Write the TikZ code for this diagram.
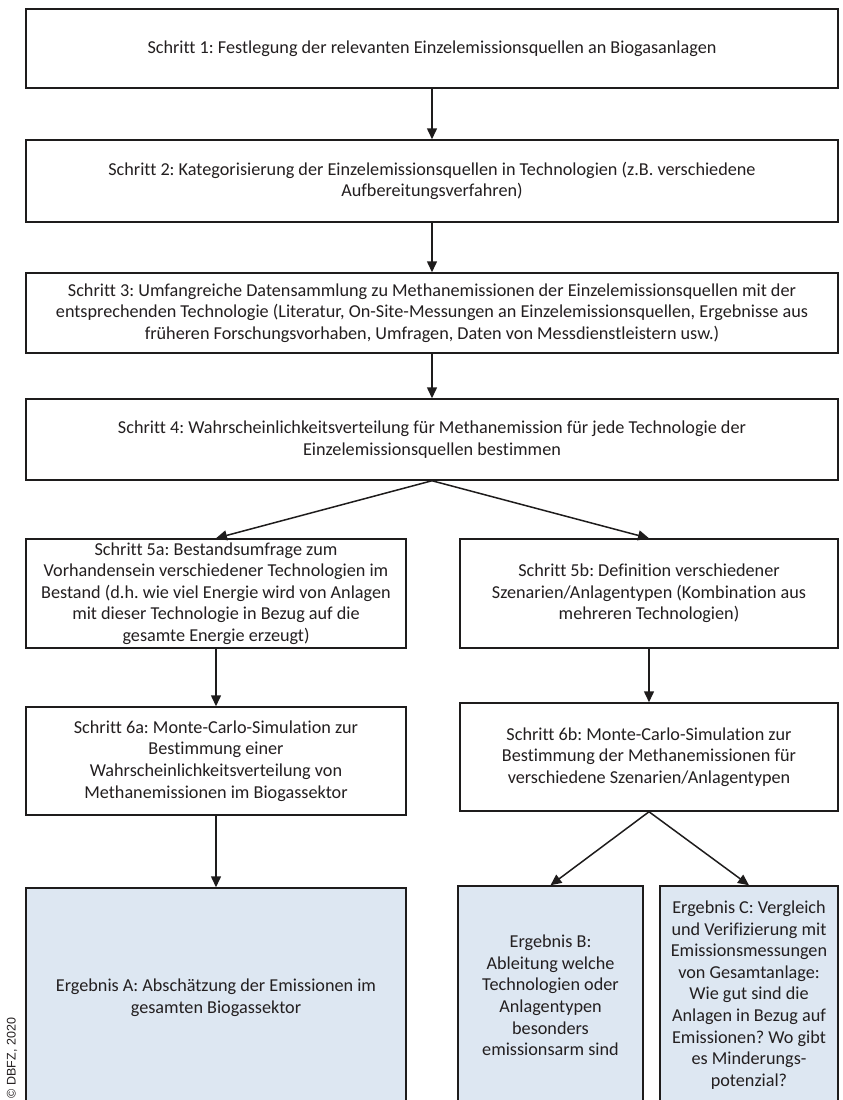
\documentclass[tikz,border=0pt]{standalone}
\usepackage{fontspec}
\setmainfont{Carlito}[Ligatures=NoCommon]
\newfontfamily\creditfont{Liberation Sans}
\usetikzlibrary{arrows.meta}
\frenchspacing
\definecolor{linec}{RGB}{30,28,28}
\definecolor{textc}{RGB}{35,31,32}
\definecolor{resultfill}{RGB}{221,231,242}
\tikzset{
  stepbox/.style={draw=linec, line width=1.5pt, fill=white, align=center, inner sep=0pt,
    text=textc, font=\fontsize{18.2}{21.6}\selectfont},
  resultbox/.style={stepbox, fill=resultfill},
  flow/.style={draw=linec, line width=1.5pt, -{Triangle[length=11pt,width=10pt]}},
}
\begin{document}
\begin{tikzpicture}[x=1pt,y=-1pt]
  \useasboundingbox (0,0) rectangle (843,1100);
  \clip (0,0) rectangle (843,1100);

  % main chain of steps
  \node[stepbox, minimum width=812pt, minimum height=79pt] (s1) at (432,48.5)
    {Schritt 1: Festlegung der relevanten Einzelemissionsquellen an Biogasanlagen};
  \node[stepbox, minimum width=812pt, minimum height=82pt] (s2) at (432,181)
    {Schritt 2: Kategorisierung der Einzelemissionsquellen in Technologien (z.B. verschiedene\\
     Aufbereitungsverfahren)};
  \node[stepbox, minimum width=812pt, minimum height=80pt] (s3) at (432,313)
    {Schritt 3: Umfangreiche Datensammlung zu Methanemissionen der Einzelemissionsquellen mit der\\
     entsprechenden Technologie (Literatur, On-Site-Messungen an Einzelemissionsquellen, Ergebnisse aus\\
     früheren Forschungsvorhaben, Umfragen, Daten von Messdienstleistern usw.)};
  \node[stepbox, minimum width=812pt, minimum height=81pt] (s4) at (432,439.5)
    {Schritt 4: Wahrscheinlichkeitsverteilung für Methanemission für jede Technologie der\\
     Einzelemissionsquellen bestimmen};

  % left branch
  \node[stepbox, minimum width=380pt, minimum height=109pt] (s5a) at (216,593.5)
    {Schritt 5a: Bestandsumfrage zum\\
     Vorhandensein verschiedener Technologien im\\
     Bestand (d.h. wie viel Energie wird von Anlagen\\
     mit dieser Technologie in Bezug auf die\\
     gesamte Energie erzeugt)};
  \node[stepbox, minimum width=380pt, minimum height=108pt] (s6a) at (216,761)
    {Schritt 6a: Monte-Carlo-Simulation zur\\
     Bestimmung einer\\
     Wahrscheinlichkeitsverteilung von\\
     Methanemissionen im Biogassektor};
  \node[resultbox, minimum width=380pt, minimum height=219pt] (ra) at (216,997.5)
    {Ergebnis A: Abschätzung der Emissionen im\\
     gesamten Biogassektor};

  % right branch
  \node[stepbox, minimum width=378pt, minimum height=109pt] (s5b) at (649,593.5)
    {Schritt 5b: Definition verschiedener\\
     Szenarien/Anlagentypen (Kombination aus\\
     mehreren Technologien)};
  \node[stepbox, minimum width=378pt, minimum height=108pt] (s6b) at (649,757)
    {Schritt 6b: Monte-Carlo-Simulation zur\\
     Bestimmung der Methanemissionen für\\
     verschiedene Szenarien/Anlagentypen};
  \node[resultbox, minimum width=185pt, minimum height=219pt] (rb) at (550.5,995.5)
    {Ergebnis B:\\
     Ableitung welche\\
     Technologien oder\\
     Anlagentypen\\
     besonders\\
     emissionsarm sind};
  \node[resultbox, minimum width=178pt, minimum height=218pt] (rc) at (749,995)
    {Ergebnis C: Vergleich\\
     und Verifizierung mit\\
     Emissionsmessungen\\
     von Gesamtanlage:\\
     Wie gut sind die\\
     Anlagen in Bezug auf\\
     Emissionen? Wo gibt\\
     es Minderungs-\\
     potenzial?};

  % connectors
  \draw[flow] (s1) -- (s2);
  \draw[flow] (s2) -- (s3);
  \draw[flow] (s3) -- (s4);
  \draw[flow] (s4.south) -- (s5a.north);
  \draw[flow] (s4.south) -- (s5b.north);
  \draw[flow] (s5a) -- (s6a);
  \draw[flow] (s6a) -- (ra);
  \draw[flow] (s5b) -- (s6b);
  \draw[flow] (s6b.south) -- (rb.north);
  \draw[flow] (s6b.south) -- (rc.north);

  % credit line
  \node[rotate=90, text=textc, font=\creditfont\fontsize{12.5}{14}\selectfont] (credit) at (12,1058)
    {© DBFZ, 2020};
\end{tikzpicture}
\end{document}
